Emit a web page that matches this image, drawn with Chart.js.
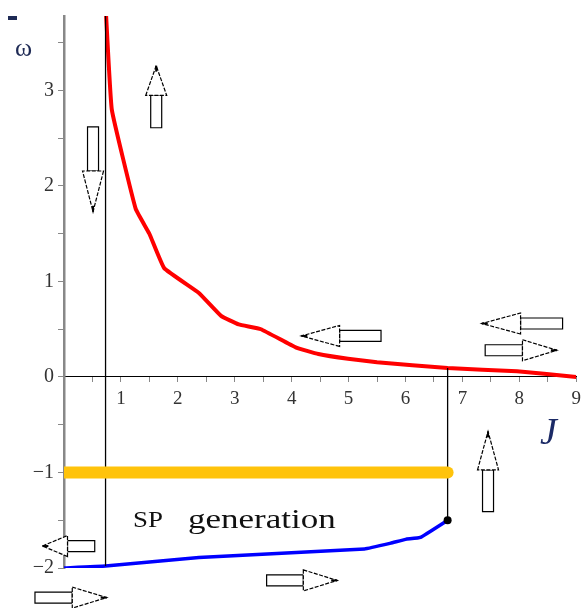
<!DOCTYPE html>
<html>
<head>
<meta charset="utf-8">
<script src="https://cdn.jsdelivr.net/npm/chart.js@4.4.1/dist/chart.umd.min.js"></script>
<style>
  html, body { margin: 0; padding: 0; background: #fff; }
  #box { width: 587px; height: 608px; }
</style>
</head>
<body>
<div id="box"><canvas id="grafico"></canvas></div>
<script>
// curva vermelha (ramo superior)
const redX = [0.74, 0.84, 1.26, 1.5, 1.76, 2.37, 2.76, 3.07, 3.46, 4.07, 4.47, 4.99, 5.5, 6.74, 7.96, 9.0];
const redY = [3.78, 2.80, 1.76, 1.50, 1.14, 0.88, 0.64, 0.55, 0.50, 0.31, 0.24, 0.19, 0.155, 0.093, 0.06, 0.0];

// curva azul (ramo inferior)
const blueX = [0, 0.73, 2.37, 5.28, 5.74, 6.0, 6.26, 6.74];
const blueY = [-2.0, -1.98, -1.89, -1.80, -1.74, -1.70, -1.68, -1.50];

// faixa laranja em y = -1
const orangeX = [0, 6.74];
const orangeY = [-1, -1];

// linhas verticais pretas
const vLine1 = { x: 0.73, y: [3.78, -1.98] };
const vLine2 = { x: 6.74, y: [0.093, -1.5] };

// setas: [x cauda, y cauda, x ponta, y ponta]
const arrows = [
  [1.62, 2.61, 1.62, 3.26],
  [0.51, 2.62, 0.51, 1.73],
  [5.57, 0.43, 4.17, 0.43],
  [8.76, 0.56, 7.34, 0.56],
  [7.40, 0.28, 8.66, 0.28],
  [7.45, -1.41, 7.45, -0.57],
  [0.54, -1.77, -0.38, -1.77],
  [-0.51, -2.31, 0.75, -2.31],
  [3.56, -2.13, 4.80, -2.13]
];

const xTicks = [1, 2, 3, 4, 5, 6, 7, 8, 9];
const yTicks = [-2, -1, 0, 1, 2, 3];

const toPts = (xs, ys) => xs.map((x, i) => ({ x: x, y: ys[i] }));

const serif = "'Liberation Serif', 'Times New Roman', serif";

function drawArrow(ctx, x1, y1, x2, y2) {
  const dx = x2 - x1, dy = y2 - y1;
  const len = Math.hypot(dx, dy);
  ctx.save();
  ctx.translate(x1, y1);
  ctx.rotate(Math.atan2(dy, dx));
  const hw = 5.5, headW = 10.5, base = len * 0.52;
  ctx.fillStyle = "#fff";
  ctx.strokeStyle = "#000";
  ctx.lineWidth = 1.2;
  ctx.beginPath();
  ctx.rect(0, -hw, base, hw * 2);
  ctx.fill();
  ctx.stroke();
  ctx.beginPath();
  ctx.moveTo(base, -headW);
  ctx.lineTo(len, 0);
  ctx.lineTo(base, headW);
  ctx.closePath();
  ctx.fill();
  ctx.setLineDash([4, 1.5]);
  ctx.stroke();
  ctx.setLineDash([]);
  ctx.fillStyle = "#000";
  ctx.fillRect(len - 6, -1, 6, 2);
  ctx.restore();
}

const extras = {
  id: "extras",
  afterDraw(chart) {
    const ctx = chart.ctx;
    const xs = chart.scales.x, ys = chart.scales.y;
    arrows.forEach(a => {
      drawArrow(ctx, xs.getPixelForValue(a[0]), ys.getPixelForValue(a[1]),
                xs.getPixelForValue(a[2]), ys.getPixelForValue(a[3]));
    });
    ctx.save();
    ctx.fillStyle = "#111";
    ctx.textBaseline = "alphabetic";
    ctx.textAlign = "left";
    // "SP generation"
    ctx.save();
    ctx.translate(133, 527);
    ctx.scale(1.12, 1);
    ctx.font = "24px " + serif;
    ctx.fillText("SP", 0, 0);
    ctx.restore();
    ctx.save();
    ctx.translate(188, 528);
    ctx.scale(1.25, 1);
    ctx.font = "28px " + serif;
    ctx.fillText("generation", 0, 0);
    ctx.restore();
    // J
    ctx.fillStyle = "#1b2a66";
    ctx.font = "italic 38px " + serif;
    ctx.fillText("J", 540, 444);
    // omega
    ctx.font = "26px " + serif;
    ctx.fillStyle = "#1e2a55";
    ctx.fillText("ω", 15, 56);
    ctx.fillRect(8, 16, 9, 4);
    ctx.restore();
  }
};

new Chart(document.getElementById("grafico"), {
  type: "line",
  data: {
    datasets: [
      {
        data: toPts(orangeX, orangeY),
        borderColor: "#ffc30b",
        borderWidth: 12,
        borderCapStyle: "round",
        pointRadius: 0
      },
      {
        data: [{ x: vLine1.x, y: vLine1.y[0] }, { x: vLine1.x, y: vLine1.y[1] }],
        borderColor: "#000",
        borderWidth: 1.3,
        pointRadius: 0
      },
      {
        data: [{ x: vLine2.x, y: vLine2.y[0] }, { x: vLine2.x, y: vLine2.y[1] }],
        borderColor: "#000",
        borderWidth: 1.3,
        pointRadius: [0, 4],
        pointBackgroundColor: "#000",
        pointBorderWidth: 0
      },
      {
        data: toPts(redX, redY),
        borderColor: "#ff0000",
        borderWidth: 4,
        pointRadius: 0,
        tension: 0.1
      },
      {
        data: toPts(blueX, blueY),
        borderColor: "#0000ff",
        borderWidth: 3.5,
        pointRadius: 0,
        tension: 0.1
      }
    ]
  },
  options: {
    responsive: true,
    maintainAspectRatio: false,
    animation: false,
    layout: { padding: { top: 10, right: 7, bottom: 40, left: 0 } },
    plugins: { legend: { display: false }, tooltip: { enabled: false } },
    scales: {
      x: {
        type: "linear",
        position: { y: 0 },
        min: 0,
        max: 9,
        grid: { drawOnChartArea: false, drawTicks: true, tickLength: 5, color: "#888" },
        border: { display: true, color: "#000", width: 1 },
        ticks: {
          stepSize: 0.5,
          includeBounds: false,
          padding: 6,
          color: "#333",
          font: { family: serif, size: 19 },
          callback: v => xTicks.includes(v) ? String(v) : ""
        }
      },
      y: {
        type: "linear",
        min: -2,
        max: 3.78,
        afterFit: s => { s.width = 64; },
        grid: { drawOnChartArea: false, drawTicks: true, tickLength: 6, color: "#888" },
        border: { display: true, color: "#888", width: 2.5 },
        ticks: {
          stepSize: 0.5,
          includeBounds: false,
          padding: 4,
          color: "#333",
          font: { family: serif, size: 20 },
          callback: v => yTicks.includes(v) ? (v < 0 ? "\u2212" + Math.abs(v) : String(v)) : ""
        }
      }
    }
  },
  plugins: [extras]
});
</script>
</body>
</html>
